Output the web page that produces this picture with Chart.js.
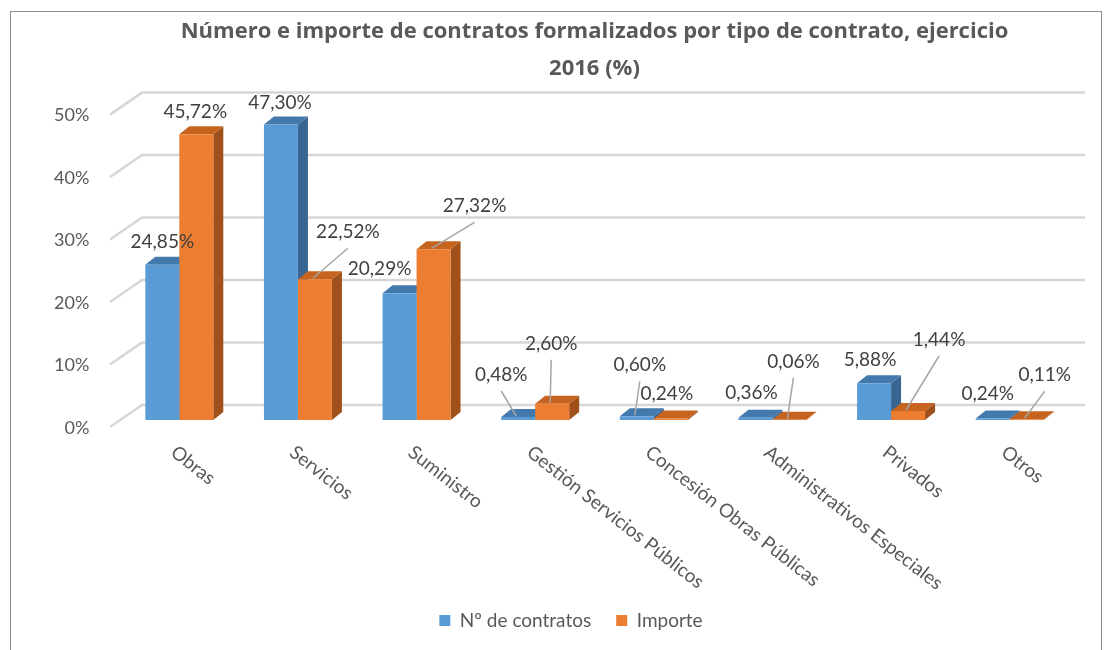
<!DOCTYPE html>
<html>
<head>
<meta charset="utf-8">
<script src="https://cdn.jsdelivr.net/npm/chart.js@4.4.1/dist/chart.umd.min.js"></script>
<style>
  html, body { margin: 0; padding: 0; background: #fff; }
  #wrap { width: 1110px; height: 650px; }
</style>
</head>
<body>
<div id="wrap"><canvas id="contratosChart"></canvas></div>
<script>
const categories = ['Obras', 'Servicios', 'Suministro', 'Gestión Servicios Públicos',
  'Concesión Obras Públicas', 'Administrativos Especiales', 'Privados', 'Otros'];
const numContratos = [24.85, 47.30, 20.29, 0.48, 0.60, 0.36, 5.88, 0.24];
const importe = [45.72, 22.52, 27.32, 2.60, 0.24, 0.06, 1.44, 0.11];
const yTicks = [0, 10, 20, 30, 40, 50];

// where each value label sits relative to the top of its bar, and if it has a leader line
const labelOffsets = [
  [[0, -23], [-1, -22], [-20, -24], [-17, -42], [3, -51], [-4, -25], [-4, -23], [-5, -25]],
  [[-1, -22], [33, -47], [41, -43], [-1, -60], [-4, -25], [4, -58], [31, -71], [18, -44]]
];
const leaders = [
  [false, false, false, true, true, false, false, false],
  [false, true, true, true, false, true, true, true]
];

const FONT = "Lato, 'Open Sans', sans-serif";
Chart.defaults.font.family = FONT;
Chart.defaults.color = '#595959';

const DEPTH_X = 10, DEPTH_Y = 8;   // bar depth
const WALL_X = 22, WALL_Y = 15;    // back wall offset
const faceColors = [
  { top: '#4379ad', side: '#386592' },
  { top: '#c6641f', side: '#a0511b' }
];

const fmt = v => v.toFixed(2).replace('.', ',') + '%';

const frame3d = {
  id: 'frame3d',
  beforeDraw(chart) {
    const ctx = chart.ctx;
    ctx.save();
    ctx.fillStyle = '#fff';
    ctx.fillRect(0, 0, chart.width, chart.height);
    ctx.strokeStyle = '#8c8c8c';
    ctx.lineWidth = 1;
    ctx.strokeRect(10.5, 11.5, 1091, 660);
    ctx.restore();
  },
  beforeDatasetsDraw(chart) {
    const { ctx, chartArea } = chart;
    const yScale = chart.scales.y;
    ctx.save();
    yTicks.forEach(v => {
      const yf = yScale.getPixelForValue(v);
      ctx.beginPath();
      ctx.moveTo(chartArea.left - 10, yf + 7);
      ctx.lineTo(chartArea.left + WALL_X, yf - WALL_Y);
      ctx.lineTo(chartArea.right + 16, yf - WALL_Y);
      ctx.strokeStyle = '#d6d6d6';
      ctx.lineWidth = 2.5;
      ctx.stroke();
    });
    chart.data.datasets.forEach((ds, di) => {
      chart.getDatasetMeta(di).data.forEach(bar => {
        const { x, y, base, width } = bar.getProps(['x', 'y', 'base', 'width'], true);
        const l = x - width / 2, r = x + width / 2;
        ctx.fillStyle = faceColors[di].side;
        ctx.beginPath();
        ctx.moveTo(r, y);
        ctx.lineTo(r + DEPTH_X, y - DEPTH_Y);
        ctx.lineTo(r + DEPTH_X, base - DEPTH_Y);
        ctx.lineTo(r, base);
        ctx.closePath();
        ctx.fill();
        ctx.fillStyle = faceColors[di].top;
        ctx.beginPath();
        ctx.moveTo(l, y);
        ctx.lineTo(l + DEPTH_X, y - DEPTH_Y);
        ctx.lineTo(r + DEPTH_X, y - DEPTH_Y);
        ctx.lineTo(r, y);
        ctx.closePath();
        ctx.fill();
      });
    });
    ctx.restore();
  }
};

const valueLabels = {
  id: 'valueLabels',
  afterDatasetsDraw(chart) {
    const ctx = chart.ctx;
    ctx.save();
    ctx.font = '19px ' + FONT;
    ctx.textAlign = 'center';
    ctx.textBaseline = 'middle';
    chart.data.datasets.forEach((ds, di) => {
      chart.getDatasetMeta(di).data.forEach((bar, i) => {
        const [dx, dy] = labelOffsets[di][i];
        const lx = bar.x + dx, ly = bar.y + dy;
        if (leaders[di][i]) {
          ctx.beginPath();
          ctx.moveTo(bar.x - 2, bar.y - 1);
          ctx.lineTo(lx, ly + 16);
          ctx.strokeStyle = '#a6a6a6';
          ctx.lineWidth = 1.5;
          ctx.stroke();
        }
        ctx.fillStyle = '#404040';
        ctx.fillText(fmt(ds.data[i]), lx, ly);
      });
    });
    ctx.restore();
  }
};

const slantedLabels = {
  id: 'slantedLabels',
  afterDraw(chart) {
    const ctx = chart.ctx;
    const xScale = chart.scales.x;
    ctx.save();
    ctx.font = '19px ' + FONT;
    ctx.fillStyle = '#595959';
    ctx.textAlign = 'left';
    ctx.textBaseline = 'middle';
    categories.forEach((c, i) => {
      const cx = xScale.getPixelForValue(i);
      ctx.save();
      ctx.translate(cx - 6, 450);
      ctx.rotate(38 * Math.PI / 180);
      ctx.fillText(c, 0, 0);
      ctx.restore();
    });
    ctx.restore();
  }
};

const ctx = document.getElementById('contratosChart').getContext('2d');

new Chart(ctx, {
  type: 'bar',
  data: {
    labels: categories,
    datasets: [{
      label: 'Nº de contratos',
      data: numContratos,
      backgroundColor: '#5b9bd5',
      borderWidth: 0
    }, {
      label: 'Importe',
      data: importe,
      backgroundColor: '#ed7d31',
      borderWidth: 0
    }]
  },
  options: {
    responsive: true,
    maintainAspectRatio: false,
    animation: false,
    datasets: {
      bar: { barPercentage: 1, categoryPercentage: 0.573 }
    },
    layout: { padding: { left: 10, right: -22, top: 12, bottom: 10 } },
    scales: {
      x: {
        grid: { display: false },
        border: { display: false },
        ticks: { display: false },
        afterFit(scale) { scale.height = 166; }
      },
      y: {
        min: 0,
        max: 50,
        grid: { display: false, drawTicks: false },
        border: { display: false },
        afterBuildTicks(scale) { scale.ticks = yTicks.map(v => ({ value: v })); },
        afterFit(scale) { scale.width = 110; },
        ticks: {
          mirror: true,
          crossAlign: 'far',
          padding: -66,
          labelOffset: 8,
          color: '#595959',
          font: { size: 18 },
          callback: v => v + '%'
        }
      },
      // empty axis on the right, only to leave room beside the plot
      y2: {
        position: 'right',
        grid: { display: false },
        border: { display: false },
        ticks: { display: false },
        afterFit(scale) { scale.width = 63; }
      }
    },
    plugins: {
      title: {
        display: true,
        fullSize: false,
        text: ['Número e importe de contratos formalizados por tipo de contrato, ejercicio', '2016 (%)'],
        color: '#595959',
        font: { family: "'Open Sans', Lato, sans-serif", size: 22, weight: 'bold', lineHeight: 1.65 },
        padding: { top: 2, bottom: 21 }
      },
      legend: {
        position: 'bottom',
        labels: {
          boxWidth: 11,
          boxHeight: 11,
          padding: 25,
          color: '#595959',
          font: { size: 19 }
        }
      },
      tooltip: { enabled: false }
    }
  },
  plugins: [frame3d, valueLabels, slantedLabels]
});
</script>
</body>
</html>
